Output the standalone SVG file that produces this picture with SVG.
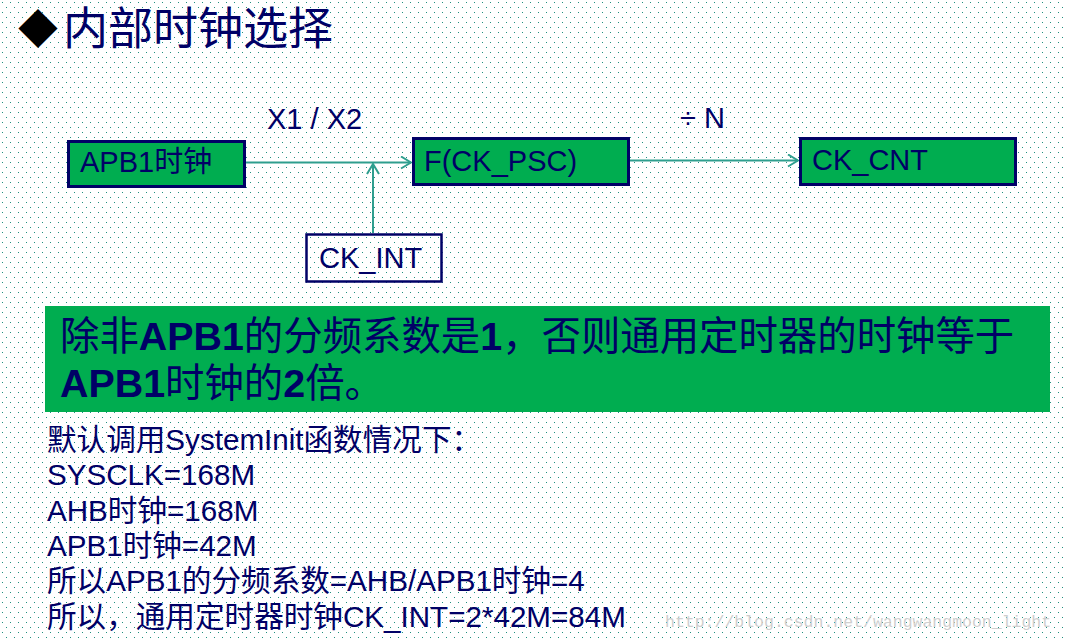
<svg xmlns="http://www.w3.org/2000/svg" width="1065" height="642" viewBox="0 0 1065 642">
<defs>
<pattern id="dots" width="8" height="10" patternUnits="userSpaceOnUse">
<rect x="2" y="2" width="1" height="1" fill="#1f8f7f"/>
<rect x="6" y="7" width="1" height="1" fill="#1f8f7f"/>
</pattern>
<marker id="arr" markerWidth="12" markerHeight="14" refX="11" refY="7" orient="auto" markerUnits="userSpaceOnUse">
<path d="M1,1 L11,7 L1,13" fill="none" stroke="#2e9e8e" stroke-width="2"/>
</marker>
</defs>
<style>
.bg{fill:#ffffff}
.box{fill:#00ad50;stroke:#000066;stroke-width:3}
.wbox{fill:none;stroke:#000066;stroke-width:2.5}
.t{font-family:"Liberation Sans","Noto Sans CJK SC",sans-serif;fill:#000066}
.lbl{font-size:29px}
.conn{fill:none;stroke:#2e9e8e;stroke-width:2;marker-end:url(#arr)}
.b{font-weight:bold}
</style>
<rect class="bg" x="0" y="0" width="1065" height="642"/>
<rect x="0" y="0" width="1065" height="642" fill="url(#dots)"/>

<g id="title">
<text x="18" y="44" font-family="'Noto Sans CJK SC',sans-serif" font-size="40" fill="#000000">◆</text>
<text x="63" y="45" font-family="'Noto Sans CJK SC',sans-serif" font-size="45" fill="#000066">内部时钟选择</text>
</g>

<g id="connectors">
<path class="conn" d="M246,162.5 H411"/>
<path class="conn" d="M373,233 V164"/>
<path class="conn" d="M630,160.5 H798"/>
<text class="t lbl" x="267" y="129">X1 / X2</text>
<text class="t lbl" x="680" y="128">÷ N</text>
</g>

<g id="node-apb1">
<rect class="box" x="68.5" y="141.5" width="176" height="45"/>
<text class="t lbl" x="80" y="172">APB1时钟</text>
</g>
<g id="node-fckpsc">
<rect class="box" x="413.5" y="138.5" width="215" height="46"/>
<text class="t lbl" x="424" y="171">F(CK_PSC)</text>
</g>
<g id="node-ckcnt">
<rect class="box" x="800.5" y="138.5" width="215" height="46"/>
<text class="t lbl" x="812" y="170">CK_CNT</text>
</g>
<g id="node-ckint">
<rect class="wbox" x="306.5" y="234.5" width="135" height="47"/>
<text class="t lbl" x="319" y="268">CK_INT</text>
</g>

<g id="banner">
<rect x="45" y="306" width="1005" height="106" fill="#00ad50"/>
<text class="t" font-size="39.4" x="60" y="350">除非<tspan class="b">APB1</tspan>的分频系数是<tspan class="b">1</tspan>，否则通用定时器的时钟等于</text>
<text class="t" font-size="39.4" x="60" y="397"><tspan class="b">APB1</tspan>时钟的<tspan class="b">2</tspan>倍。</text>
</g>

<g id="notes" class="t" font-size="29.6">
<text x="47" y="450">默认调用SystemInit函数情况下：</text>
<text x="47" y="485">SYSCLK=168M</text>
<text x="47" y="520.5">AHB时钟=168M</text>
<text x="47" y="556">APB1时钟=42M</text>
<text x="47" y="591">所以APB1的分频系数=AHB/APB1时钟=4</text>
<text x="47" y="626.5">所以，通用定时器时钟CK_INT=2*42M=84M</text>
</g>

<text x="665" y="627" font-family="'Liberation Mono',monospace" font-size="16.5" fill="#cfcfcf">http://blog.csdn.net/wangwangmoon_light</text>
</svg>
